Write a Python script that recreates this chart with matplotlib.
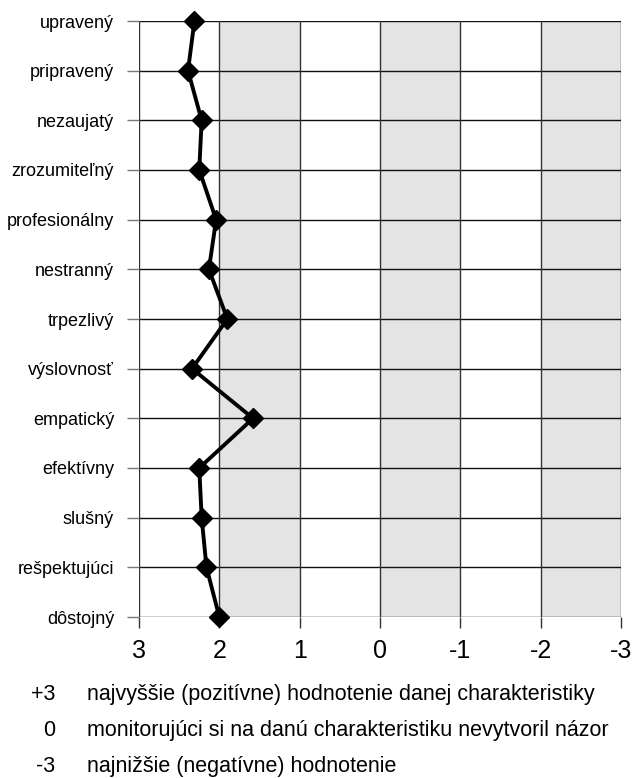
import matplotlib
matplotlib.use("Agg")
import matplotlib.pyplot as plt

plt.rcParams['font.family'] = ['Liberation Sans', 'DejaVu Sans']

categories = ["upravený", "pripravený", "nezaujatý", "zrozumiteľný", "profesionálny",
              "nestranný", "trpezlivý", "výslovnosť", "empatický", "efektívny",
              "slušný", "rešpektujúci", "dôstojný"]
values = [2.31, 2.39, 2.22, 2.25, 2.04, 2.13, 1.90, 2.34, 1.58, 2.25, 2.22, 2.16, 2.00]
x_ticks = [3, 2, 1, 0, -1, -2, -3]
x_ticklabels = ["3", "2", "1", "0", "-1", "-2", "-3"]
shaded = [(2, 1), (0, -1), (-2, -3)]
legend_keys = ["+3", "0", "-3"]
legend_texts = ["najvyššie (pozitívne) hodnotenie danej charakteristiky",
                "monitorujúci si na danú charakteristiku nevytvoril názor",
                "najnižšie (negatívne) hodnotenie"]

W, H = 632, 778
fig = plt.figure(figsize=(W / 100, H / 100), dpi=100)
ax = fig.add_axes([139 / W, 1 - 617 / H, (621 - 139) / W, (617 - 21) / H])

n = len(categories)
ypos = list(range(n - 1, -1, -1))

for a, b in shaded:
    ax.axvspan(b, a, color='#e4e4e4', zorder=0, lw=0)

for y in ypos:
    ax.axhline(y, color='#111111', lw=1.0, zorder=1)
for x in x_ticks:
    ax.axvline(x, color='#333333', lw=1.0, zorder=1)

ax.plot(values, ypos, color='black', lw=2.8, marker='D', markersize=10,
        markerfacecolor='black', markeredgecolor='black', zorder=3, clip_on=False)

ax.set_xlim(3, -3)
ax.set_ylim(0, n - 1)
ax.set_xticks(x_ticks)
ax.set_xticklabels(x_ticklabels, fontsize=18)
ax.set_yticks(ypos)
ax.set_yticklabels(categories, fontsize=13)
ax.tick_params(axis='y', length=9, width=1, color='#777777', pad=9)
ax.tick_params(axis='x', length=8, width=1, color='#333333', pad=8)
for s in ax.spines.values():
    s.set_visible(False)

for i, (k, t) in enumerate(zip(legend_keys, legend_texts)):
    yb = 1 - (700 + 36 * i) / H
    fig.text(55 / W, yb, k, ha='right', va='baseline', fontsize=15.5)
    fig.text(87 / W, yb, t, ha='left', va='baseline', fontsize=15.5)

fig.savefig("out.png", dpi=100)
